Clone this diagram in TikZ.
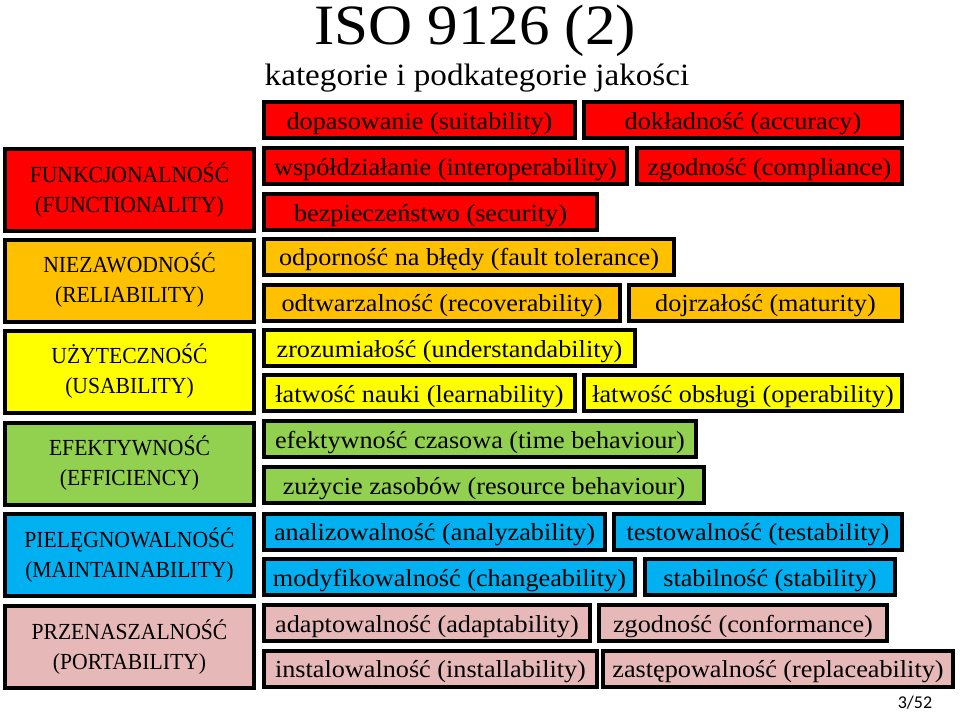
\documentclass[tikz,border=0pt]{standalone}
\usepackage{fontspec}
\setmainfont{Liberation Serif}[FakeStretch=1.07]
\newfontfamily\catfont{Liberation Serif}[FakeStretch=0.94]
\newfontfamily\pagefont{Carlito}
\definecolor{funcred}{HTML}{FF0000}
\definecolor{reliorange}{HTML}{FFC000}
\definecolor{usayellow}{HTML}{FFFF00}
\definecolor{effgreen}{HTML}{92D050}
\definecolor{mainblue}{HTML}{00B0F0}
\definecolor{portpink}{HTML}{E6B9B8}
\begin{document}
\begin{tikzpicture}[x=1pt,y=-1pt,
    cat/.style={draw,line width=4pt,inner sep=0pt,minimum width=249pt,minimum height=82pt,align=center,font=\catfont\fontsize{23}{30}\selectfont},
    sub/.style={draw,line width=4pt,inner sep=0pt,minimum height=36pt,text height=18pt,text depth=0pt,font=\fontsize{24.5}{27}\selectfont}]
    \useasboundingbox (0,0) rectangle (960,712);
    \node[anchor=base] (title) at (475,44) {\fontsize{57}{60}\selectfont ISO 9126 (2)};
    \node[anchor=base] (subtitle) at (477,85) {\fontsize{31}{32}\selectfont kategorie i podkategorie jakości};
    \node[cat,fill=funcred] (funk) at (129.5,190) {FUNKCJONALNOŚĆ\\(FUNCTIONALITY)};
    \node[cat,fill=reliorange] (niez) at (129.5,280.5) {NIEZAWODNOŚĆ\\(RELIABILITY)};
    \node[cat,fill=usayellow] (uzyt) at (129.5,371.5) {UŻYTECZNOŚĆ\\(USABILITY)};
    \node[cat,fill=effgreen] (efek) at (129.5,463.5) {EFEKTYWNOŚĆ\\(EFFICIENCY)};
    \node[cat,fill=mainblue] (piel) at (129.5,555) {PIELĘGNOWALNOŚĆ\\(MAINTAINABILITY)};
    \node[cat,fill=portpink] (prze) at (129.5,647) {PRZENASZALNOŚĆ\\(PORTABILITY)};
    \node[sub,fill=funcred,minimum width=311pt] (dopas) at (419.5,120) {dopasowanie (suitability)};
    \node[sub,fill=funcred,minimum width=318pt] (dokl) at (743,120) {dokładność (accuracy)};
    \node[sub,fill=funcred,minimum width=363pt] (wspol) at (445.5,166) {współdziałanie (interoperability)};
    \node[sub,fill=funcred,minimum width=265pt] (zgodc) at (769.5,166) {zgodność (compliance)};
    \node[sub,fill=funcred,minimum width=333pt] (bezp) at (430.5,212) {bezpieczeństwo (security)};
    \node[sub,fill=reliorange,minimum width=410pt] (odpor) at (469,256.5) {odporność na błędy (fault tolerance)};
    \node[sub,fill=reliorange,minimum width=356pt] (odtw) at (442,302.5) {odtwarzalność (recoverability)};
    \node[sub,fill=reliorange,minimum width=273pt] (dojrz) at (765.5,302.5) {dojrzałość (maturity)};
    \node[sub,fill=usayellow,minimum width=371pt] (zroz) at (449.5,348) {zrozumiałość (understandability)};
    \node[sub,fill=usayellow,minimum width=311pt] (nauki) at (419.5,393) {łatwość nauki (learnability)};
    \node[sub,fill=usayellow,minimum width=318pt] (obsl) at (743,393) {łatwość obsługi (operability)};
    \node[sub,fill=effgreen,minimum width=432pt] (czas) at (480,439) {efektywność czasowa (time behaviour)};
    \node[sub,fill=effgreen,minimum width=440pt] (zuzy) at (484,485) {zużycie zasobów (resource behaviour)};
    \node[sub,fill=mainblue,minimum width=341pt] (anal) at (434.5,531.5) {analizowalność (analyzability)};
    \node[sub,fill=mainblue,minimum width=288pt] (test) at (758,531.5) {testowalność (testability)};
    \node[sub,fill=mainblue,minimum width=371pt] (modyf) at (449.5,577) {modyfikowalność (changeability)};
    \node[sub,fill=mainblue,minimum width=250pt] (stab) at (770,577) {stabilność (stability)};
    \node[sub,fill=portpink,minimum width=326pt] (adapt) at (427,623) {adaptowalność (adaptability)};
    \node[sub,fill=portpink,minimum width=288pt] (zgodk) at (743,623) {zgodność (conformance)};
    \node[sub,fill=portpink,minimum width=333pt] (inst) at (430.5,668.5) {instalowalność (installability)};
    \node[sub,fill=portpink,minimum width=350pt] (zast) at (778,668.5) {zastępowalność (replaceability)};
    \node[anchor=base] (page) at (915,708) {\pagefont\fontsize{18}{20}\selectfont 3/52};
\end{tikzpicture}
\end{document}
